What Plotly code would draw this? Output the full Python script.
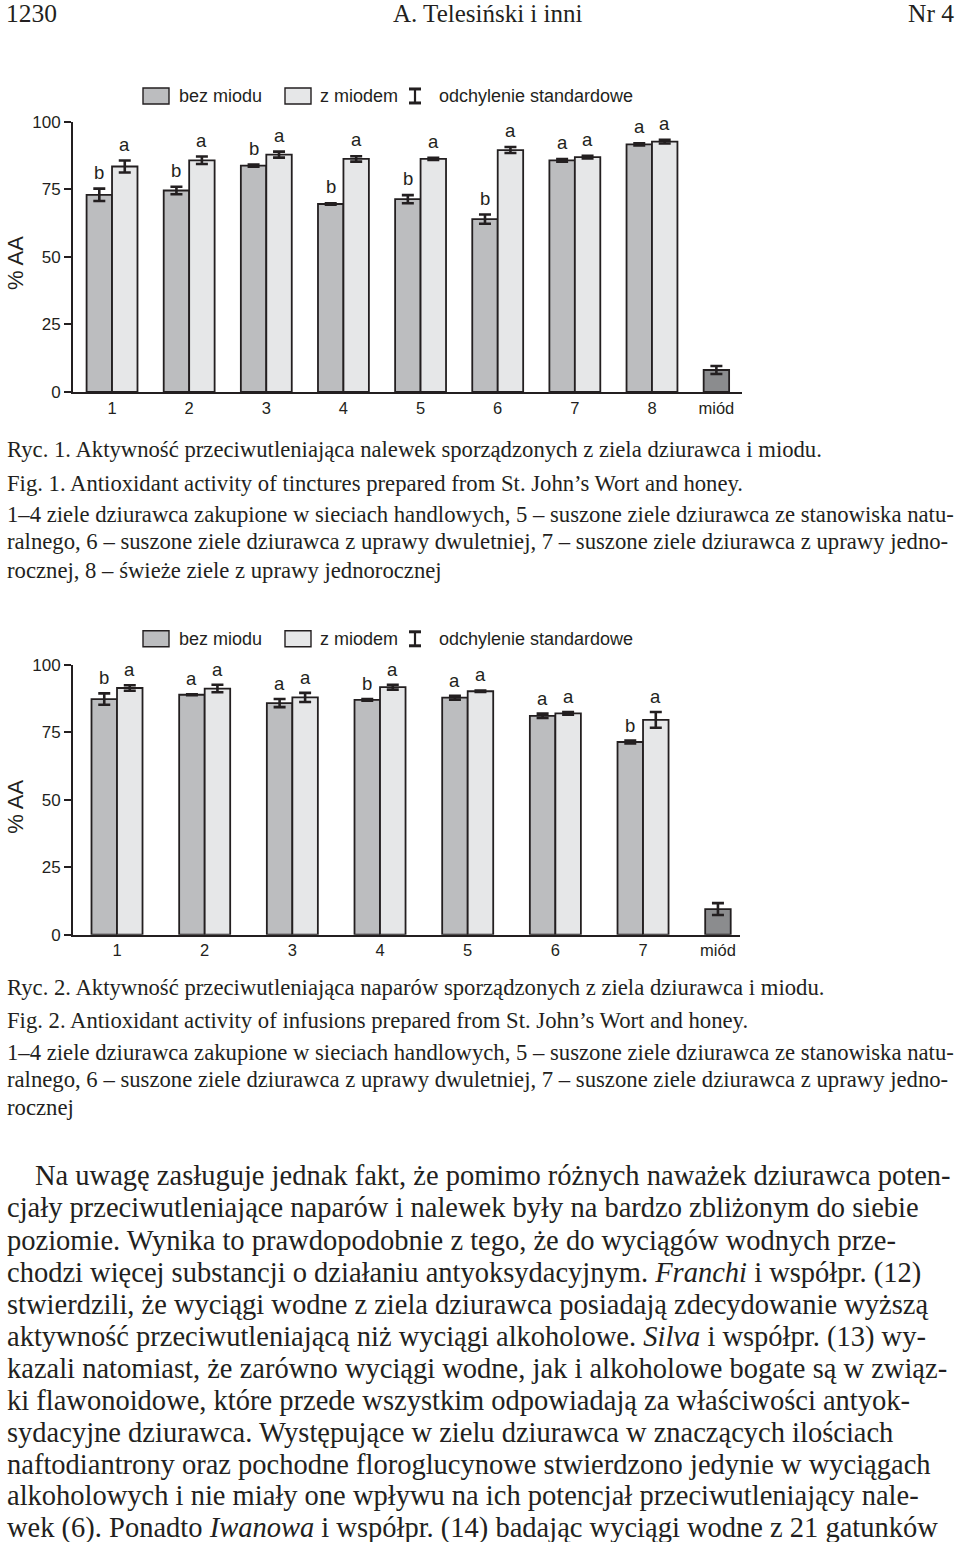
import plotly.graph_objects as go

W, H = 960, 1542
# the photographed page is mapped as  shown_y = 0.988 * page_y + 9  (measured);
# positions below are given in shown-picture pixels and converted back.
Y_SCALE, Y_OFF = 0.988, 9.0

# ---------------- data: Ryc. 1 (nalewki / tinctures) ----------------
cats1 = ["1", "2", "3", "4", "5", "6", "7", "8", "miód"]
bez1 = [73.0, 74.6, 83.8, 69.6, 71.4, 64.0, 85.8, 91.7]
bez1_sd = [2.3, 1.4, 0.4, 0.3, 1.5, 1.7, 0.5, 0.4]
z1 = [83.5, 85.8, 87.9, 86.3, 86.3, 89.6, 87.0, 92.7]
z1_sd = [2.2, 1.4, 1.1, 1.0, 0.4, 1.1, 0.5, 0.7]
miod1 = 8.1
miod1_sd = 1.5
let_bez1 = ["b", "b", "b", "b", "b", "b", "a", "a"]
let_z1 = ["a", "a", "a", "a", "a", "a", "a", "a"]

# ---------------- data: Ryc. 2 (napary / infusions) ----------------
cats2 = ["1", "2", "3", "4", "5", "6", "7", "miód"]
bez2 = [87.3, 88.9, 85.8, 87.0, 87.8, 81.1, 71.4]
bez2_sd = [2.1, 0.2, 1.5, 0.3, 0.7, 0.8, 0.5]
z2 = [91.4, 91.2, 87.9, 91.7, 90.2, 82.0, 79.6]
z2_sd = [1.0, 1.4, 1.7, 0.9, 0.3, 0.5, 2.9]
miod2 = 9.5
miod2_sd = 2.2
let_bez2 = ["b", "a", "a", "b", "a", "a", "b"]
let_z2 = ["a", "a", "a", "a", "a", "a", "a"]

y_ticks = [0, 25, 50, 75, 100]
legend_labels = ["bez miodu", "z miodem", "odchylenie standardowe"]
y_title = "% AA"

header = ["1230", "A. Telesiński i inni", "Nr 4"]
caption1 = [
    "Ryc. 1. Aktywność przeciwutleniająca nalewek sporządzonych z ziela dziurawca i miodu.",
    "Fig. 1. Antioxidant activity of tinctures prepared from St. John’s Wort and honey.",
    "1–4 ziele dziurawca zakupione w sieciach handlowych, 5 – suszone ziele dziurawca ze stanowiska natu-",
    "ralnego, 6 – suszone ziele dziurawca z uprawy dwuletniej, 7 – suszone ziele dziurawca z uprawy jedno-",
    "rocznej, 8 – świeże ziele z uprawy jednorocznej",
]
caption2 = [
    "Ryc. 2. Aktywność przeciwutleniająca naparów sporządzonych z ziela dziurawca i miodu.",
    "Fig. 2. Antioxidant activity of infusions prepared from St. John’s Wort and honey.",
    "1–4 ziele dziurawca zakupione w sieciach handlowych, 5 – suszone ziele dziurawca ze stanowiska natu-",
    "ralnego, 6 – suszone ziele dziurawca z uprawy dwuletniej, 7 – suszone ziele dziurawca z uprawy jedno-",
    "rocznej",
]
body = [
    "Na uwagę zasługuje jednak fakt, że pomimo różnych naważek dziurawca poten-",
    "cjały przeciwutleniające naparów i nalewek były na bardzo zbliżonym do siebie",
    "poziomie. Wynika to prawdopodobnie z tego, że do wyciągów wodnych prze-",
    "chodzi więcej substancji o działaniu antyoksydacyjnym. <i>Franchi</i> i współpr. (12)",
    "stwierdzili, że wyciągi wodne z ziela dziurawca posiadają zdecydowanie wyższą",
    "aktywność przeciwutleniającą niż wyciągi alkoholowe. <i>Silva</i> i współpr. (13) wy-",
    "kazali natomiast, że zarówno wyciągi wodne, jak i alkoholowe bogate są w związ-",
    "ki flawonoidowe, które przede wszystkim odpowiadają za właściwości antyok-",
    "sydacyjne dziurawca. Występujące w zielu dziurawca w znaczących ilościach",
    "naftodiantrony oraz pochodne floroglucynowe stwierdzono jedynie w wyciągach",
    "alkoholowych i nie miały one wpływu na ich potencjał przeciwutleniający nale-",
    "wek (6). Ponadto <i>Iwanowa</i> i współpr. (14) badając wyciągi wodne z 21 gatunków",
]

# ---------------- styles ----------------
INK = "#231f20"
GRAY = "#bcbdbf"
LIGHT = "#e6e7e8"
DARK = "#8b8c8e"
SANS = "Liberation Sans, Arial, sans-serif"
SERIF = "Liberation Serif, Times New Roman, serif"


def px_x(px):
    return px / W


def px_y(py):
    return 1 - ((py - Y_OFF) / Y_SCALE) / H


fig = go.Figure()
annotations = []
shapes = []


def add_chart(n, cats, bez, bez_sd, z, z_sd, miod, miod_sd, let_bez, let_z,
              xdom, ydom, xrange_, barw, legend_y, ytitle_y, letter_shift):
    xa = "x" if n == 1 else "x2"
    ya = "y" if n == 1 else "y2"
    idx = list(range(1, len(cats) + 1))
    fig.add_trace(go.Bar(
        x=idx, y=bez + [miod], width=barw, offset=-barw,
        marker=dict(color=[GRAY] * len(bez) + [DARK], line=dict(color=INK, width=1.8)),
        error_y=dict(type="data", array=bez_sd + [miod_sd], color=INK, thickness=2.6, width=6),
        xaxis=xa, yaxis=ya, showlegend=False, hoverinfo="skip",
    ))
    fig.add_trace(go.Bar(
        x=idx[:-1], y=z, width=barw, offset=0,
        marker=dict(color=LIGHT, line=dict(color=INK, width=1.8)),
        error_y=dict(type="data", array=z_sd, color=INK, thickness=2.6, width=6),
        xaxis=xa, yaxis=ya, showlegend=False, hoverinfo="skip",
    ))
    tickvals = idx[:-1] + [idx[-1] - barw / 2]
    axis_x = dict(domain=[px_x(xdom[0]), px_x(xdom[1])], range=xrange_,
                  tickvals=tickvals, ticktext=cats, ticks="", showline=True,
                  linecolor=INK, linewidth=2, showgrid=False, zeroline=False,
                  tickfont=dict(family=SANS, size=16.5, color=INK), anchor=ya)
    axis_y = dict(domain=[px_y(ydom[1]), px_y(ydom[0])], range=[0, 100],
                  tickvals=y_ticks, ticks="outside", ticklen=7, tickwidth=2,
                  tickcolor=INK, showline=True, linecolor=INK, linewidth=2,
                  showgrid=False, zeroline=False,
                  tickfont=dict(family=SANS, size=17, color=INK), anchor=xa)
    if n == 1:
        fig.update_layout(xaxis=axis_x, yaxis=axis_y)
    else:
        fig.update_layout(xaxis2=axis_x, yaxis2=axis_y)
    # significance letters
    for i, (v, s, t) in enumerate(zip(bez, bez_sd, let_bez)):
        annotations.append(dict(x=idx[i] - barw / 2, y=v + s, xref=xa, yref=ya, text=t,
                                showarrow=False, xanchor="center", yanchor="bottom",
                                yshift=letter_shift,
                                font=dict(family=SANS, size=18.5, color=INK)))
    for i, (v, s, t) in enumerate(zip(z, z_sd, let_z)):
        annotations.append(dict(x=idx[i] + barw / 2, y=v + s, xref=xa, yref=ya, text=t,
                                showarrow=False, xanchor="center", yanchor="bottom",
                                yshift=letter_shift,
                                font=dict(family=SANS, size=18.5, color=INK)))
    # y title
    annotations.append(dict(x=px_x(16), y=px_y(ytitle_y), xref="paper", yref="paper",
                            text=y_title, textangle=-90, showarrow=False,
                            xanchor="center", yanchor="middle",
                            font=dict(family=SANS, size=22, color=INK)))
    # legend
    ly = legend_y
    for (x0, x1, col) in [(143, 169, GRAY), (285, 311, LIGHT)]:
        shapes.append(dict(type="rect", xref="paper", yref="paper",
                           x0=px_x(x0), x1=px_x(x1), y0=px_y(ly + 8), y1=px_y(ly - 8),
                           fillcolor=col, line=dict(color=INK, width=1.4)))
    ex = 415
    shapes.append(dict(type="line", xref="paper", yref="paper", x0=px_x(ex), x1=px_x(ex),
                       y0=px_y(ly + 7), y1=px_y(ly - 7), line=dict(color=INK, width=2.2)))
    for dy in (-7, 7):
        shapes.append(dict(type="line", xref="paper", yref="paper", x0=px_x(ex - 6),
                           x1=px_x(ex + 6), y0=px_y(ly + dy), y1=px_y(ly + dy),
                           line=dict(color=INK, width=3)))
    for lx, lab in zip([177, 318, 437], legend_labels):
        annotations.append(dict(x=px_x(lx), y=px_y(ly), xref="paper", yref="paper",
                                text=lab, showarrow=False, xanchor="left", yanchor="middle",
                                font=dict(family=SANS, size=18, color=INK)))


add_chart(1, cats1, bez1, bez1_sd, z1, z1_sd, miod1, miod1_sd, let_bez1, let_z1,
          xdom=(73, 742), ydom=(122, 392), xrange_=[0.494, 9.167], barw=0.33,
          legend_y=96, ytitle_y=263, letter_shift=4)
add_chart(2, cats2, bez2, bez2_sd, z2, z2_sd, miod2, miod2_sd, let_bez2, let_z2,
          xdom=(73, 740), ydom=(665, 935), xrange_=[0.498, 8.106], barw=0.291,
          legend_y=639, ytitle_y=807, letter_shift=3)


def text_line(txt, x, y, size, anchor="left"):
    annotations.append(dict(x=px_x(x), y=px_y(y), xref="paper", yref="paper", text=txt,
                            showarrow=False, xanchor=anchor, yanchor="middle",
                            font=dict(family=SERIF, size=size, color=INK)))


text_line(header[0], 4, 14, 25.5, "left")
text_line(header[1], 488, 14, 25, "center")
text_line(header[2], 956, 14, 25.5, "right")

for t, y in zip(caption1, [450, 484, 515, 542, 571]):
    text_line(t, 5, y, 22.7)
for t, y in zip(caption2, [988, 1021, 1053, 1080, 1108]):
    text_line(t, 5, y, 22.7)
body_y = [1176, 1208, 1241, 1273, 1305, 1337, 1369, 1401, 1433, 1465, 1496, 1528]
for i, (t, y) in enumerate(zip(body, body_y)):
    text_line(t, 33 if i == 0 else 5, y, 28.5)

fig.update_layout(
    width=W, height=H, autosize=False,
    margin=dict(l=0, r=0, t=0, b=0),
    paper_bgcolor="white", plot_bgcolor="white",
    annotations=annotations, shapes=shapes,
    barmode="overlay",
)

fig.write_html("out.html", config={"displayModeBar": False},
               post_script="document.body.style.margin='0';document.body.style.overflow='hidden';")
